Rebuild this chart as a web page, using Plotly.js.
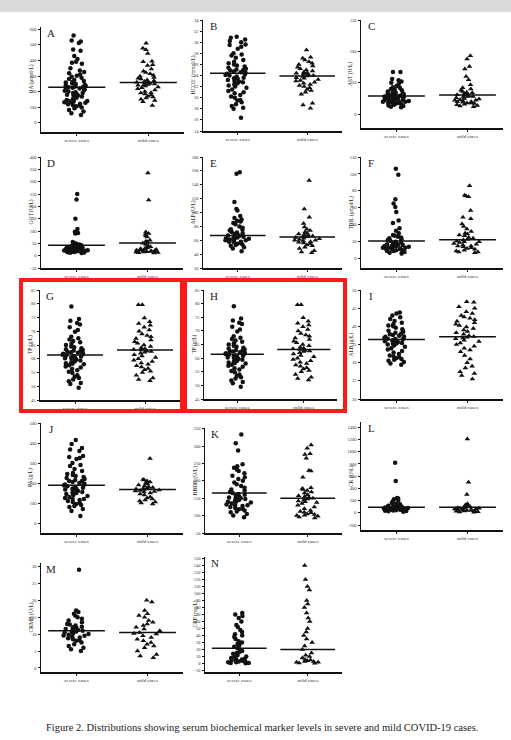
<!DOCTYPE html>
<html><head><meta charset="utf-8">
<script src="https://cdn.plot.ly/plotly-3.0.1.min.js"></script>
<style>html,body{margin:0;padding:0;background:#fff}#chart{width:511px;height:740px}</style>
</head><body><div id="chart"></div>
<script>
const categories = ['severe cases', 'mild cases'];

const ua_severe = [560,528,522,512,470,462,428,410,392,385,378,350,335,325,318,310,302,295,288,280,275,268,262,258,252,248,244,240,236,232,228,224,220,215,210,205,200,195,190,185,180,175,168,160,152,145,140,138,132,128,122,118,112,105,98,92,82,72,60,50,230,215,190,175,140,125,110];
const ua_mild = [510,478,468,445,395,392,372,368,345,330,322,315,305,298,290,285,280,275,270,265,262,258,252,248,244,240,235,230,224,218,210,200,192,185,178,170,165,158,150,142,135,110,260,245,190];
const ua_means = [227, 259];

const hco3_severe = [31,30.8,30.5,30.2,30,29.6,29.5,29.2,28.8,28,27.8,27.6,27.2,26.8,26.5,26.2,26,25.8,25.6,25.4,25.2,25,24.9,24.7,24.5,24.3,24.2,24,23.8,23.6,23.4,23.2,23,22.8,22.6,22.4,22.2,22,21.8,21.5,21.2,21,20.8,20.5,20.2,20,19.6,19.5,19.2,18.8,18.5,18.2,18,16.4,25.1,24.6,24.1,23.5,22.9];
const hco3_mild = [28.6,27.3,27.1,26.8,26.5,26.2,26,25.7,25.5,25.2,25,24.8,24.6,24.4,24.3,24.1,24,23.8,23.6,23.5,23.3,23.1,23,22.8,22.6,22.4,22.2,22,21.8,21.5,21.3,21,20.6,19,18.7,18.1,24.5,23.9];
const hco3_means = [24.4, 23.9];

const ast_severe = [67,67,56,54,52,50,48,45,43,42,40,39,38,37,36,35,34,33,32,32,31,30,30,29,28,28,27,27,26,26,25,25,24,24,23,23,22,22,21,21,20,20,19,19,18,18,17,16,15,14,13,12,11,30,27,24,21,18];
const ast_mild = [93,88,76,72,60,55,47,42,40,38,36,35,34,33,32,31,30,29,28,27,26,25,24,23,22,21,20,20,19,18,18,17,16,15,14,13,12,28,22];
const ast_means = [29, 30.6];

const ggt_severe = [250,228,150,108,97,95,92,90,55,50,48,45,43,42,40,39,38,36,35,34,33,32,31,30,29,28,27,26,25,25,24,23,22,22,21,20,20,19,18,18,17,16,15,14,13,12,11,30,27,24,21,18];
const ggt_mild = [335,226,96,90,86,80,76,62,58,55,50,45,40,36,32,30,28,26,25,24,22,21,20,19,18,17,16,15,14,13,12,11,20,16];
const ggt_means = [42, 51];

const alp_severe = [158,156,115,105,103,95,92,90,88,87,85,83,80,78,76,75,74,72,71,70,69,68,67,66,65,64,63,62,61,60,59,58,57,56,55,54,53,52,50,48,44,66,64,62,60,58];
const alp_mild = [146,105,93,84,79,76,74,72,70,69,68,67,66,65,64,63,62,61,60,59,58,57,56,55,53,52,50,48,45,43,42,65,60];
const alp_means = [67, 64.7];

const tbil_severe = [106,99,70,65,61,55,45,42,36,33,30,28,27,26,25,24,23,22,21,20,19,18,18,17,16,16,15,15,14,14,13,13,12,12,11,11,10,10,9,9,8,7,6,17,15,13,11];
const tbil_mild = [86,75,74,73,57,49,47,41,38,35,32,30,29,28,27,25,24,23,22,21,20,19,18,17,16,15,14,13,12,11,10,9,8,8,7,20,15];
const tbil_means = [20.9, 22.4];

const tp_severe = [79,74.5,73.8,73,72.5,71.5,70.5,69.8,68,67.5,67,66.5,66,65.5,65,64.5,64.2,63.8,63.5,63.2,63,62.7,62.5,62.2,62,61.8,61.5,61.2,61,60.8,60.5,60.2,60,59.7,59.4,59,58.7,58.4,58,57.6,57.2,56.8,56.3,55.8,55.3,54.8,54,53.5,53,52.5,51.8,51.2,50.8,49.5,62.4,61.6,60.4,58.2];
const tp_mild = [79.6,79.6,74.8,73.5,72.8,72.2,71.5,70.5,70,69,68.5,68,67.4,66.8,66.2,65.6,65,64.5,64,63.6,63.2,62.8,62.4,62,61.5,61,60.5,60,59.5,59,58.5,58,57.5,57,56.5,56,55.5,55,54,53,52.5,52,63.4,62.6];
const tp_means = [61.4, 63.2];

const alb_severe = [43.8,43.5,43,42.5,42,41.5,41,40.6,40.2,40,39.6,39.2,38.8,38.5,38.2,38,37.8,37.6,37.4,37.2,37,36.8,36.6,36.4,36.2,36,35.8,35.6,35.4,35.2,35,34.7,34.4,34,33.6,33.2,32.8,32.4,32,31.8,31.5,31.2,31,30.8,30.5,30.2,29.8,29.4,37.1,36.5,35.9,35.3];
const alb_mild = [46.8,46.6,45.4,45,44,43.5,43,42.6,42.2,41.8,41.4,41,40.6,40.2,39.8,39.4,39,38.6,38.2,37.8,37.4,37,36.6,36.2,35.8,35.4,35,34.5,34,33.5,33,32,31,30,29,28.5,27.5,27,26.5,25.5,37.2,36.8];
const alb_means = [36.4, 37.1];

const pa_severe = [415,395,375,368,360,335,330,325,320,300,290,285,270,260,250,245,240,235,230,225,220,215,210,205,200,196,192,188,184,180,176,172,168,164,160,155,150,145,140,135,130,125,120,115,110,105,100,95,90,85,80,70,60,35,210,190,170,150,120];
const pa_mild = [322,218,215,210,205,200,195,190,185,180,178,175,172,170,168,165,162,160,158,155,150,145,140,130,125,120,115,110,105,100,95];
const pa_means = [189, 167];

const hbdh_severe = [333,308,287,248,242,238,232,228,222,215,210,205,200,195,190,185,180,175,172,168,165,162,160,157,155,152,150,148,145,142,140,138,135,132,130,128,125,122,120,118,115,112,110,105,100,95,150,140,130];
const hbdh_mild = [303,294,278,276,265,230,228,210,180,178,175,172,168,165,160,157,155,152,150,148,145,142,140,138,135,130,125,120,115,112,110,108,105,103,101,100,98,96,93];
const hbdh_means = [165, 150];

const ck_severe = [820,520,245,235,225,200,185,160,150,140,130,120,115,110,105,100,95,90,85,80,75,70,65,60,55,50,45,40,35,30,25,20,90,70,50,40];
const ck_mild = [1210,500,300,150,130,120,110,100,95,90,85,80,75,70,65,60,55,50,45,40,35,30,25,20,15,10,60,40];
const ck_means = [92, 92];

const ckmb_severe = [29,17,16.5,16,15.5,15,14.5,14,13.5,13,12.8,12.5,12.2,12,11.8,11.5,11.2,11,10.8,10.5,10.2,10,9.8,9.5,9.2,9,8.8,8.5,8.2,8,7.5,7,6.5,6,5.5,5,11.4,10.6,9.6];
const ckmb_mild = [20,19.5,17,16,15.5,15,14,13.5,13,12.5,12,11.5,11,10.5,10,9.5,9,8.5,8,7.5,7,6.5,6,5,4,3.5,3,10.2];
const ckmb_means = [11, 10.5];

const crp_severe = [72,70,68,65,60,55,52,48,45,42,40,38,35,32,30,28,26,24,22,20,18,16,15,14,12,10,9,8,7,6,5,4,3,2,1,1,0.5,6,4,3,2];
const crp_mild = [140,120,110,105,90,85,80,72,65,60,50,45,40,35,30,25,20,15,12,10,8,6,5,4,3,2,1,0.5,3,2];
const crp_means = [22, 20];

const W = 511, H = 740;
const panels = [
  {letter:'A', title:'UA (μmol/L)', sev:ua_severe, mild:ua_mild, means:ua_means, range:[-60,615], dtick:100, box:[41,184,27,132]},
  {letter:'B', title:'HCO3⁻ (mmol/L)', sev:hco3_severe, mild:hco3_mild, means:hco3_means, range:[14,34], dtick:2, box:[203,342,20,131]},
  {letter:'C', title:'AST (U/L)', sev:ast_severe, mild:ast_mild, means:ast_means, range:[-22,150], dtick:50, box:[361,503,20,128]},
  {letter:'D', title:'GGT (U/L)', sev:ggt_severe, mild:ggt_mild, means:ggt_means, range:[-50,400], dtick:50, box:[41,183,157,268]},
  {letter:'E', title:'ALP (U/L)', sev:alp_severe, mild:alp_mild, means:alp_means, range:[20,180], dtick:20, box:[203,342,157,268]},
  {letter:'F', title:'TBIL (μmol/L)', sev:tbil_severe, mild:tbil_mild, means:tbil_means, range:[-11,120], dtick:20, box:[361,503,157,268]},
  {letter:'G', title:'TP (g/L)', sev:tp_severe, mild:tp_mild, means:tp_means, range:[45,85], dtick:5, box:[40,180,290,400]},
  {letter:'H', title:'TP (g/L)', sev:tp_severe, mild:tp_mild, means:tp_means, range:[45,85], dtick:5, box:[204,337,290,399]},
  {letter:'I', title:'ALB (g/L)', sev:alb_severe, mild:alb_mild, means:alb_means, range:[20,50], dtick:5, box:[361,503,290,399]},
  {letter:'J', title:'PA (g/L)', sev:pa_severe, mild:pa_mild, means:pa_means, range:[-50,500], dtick:100, box:[41,183,423,533]},
  {letter:'K', title:'HBDH (U/L)', sev:hbdh_severe, mild:hbdh_mild, means:hbdh_means, range:[50,352], dtick:50, box:[205,342,428,533]},
  {letter:'L', title:'CK (U/L)', sev:ck_severe, mild:ck_mild, means:ck_means, range:[-280,1487], dtick:200, box:[361,503,422,530]},
  {letter:'M', title:'CKMB (U/L)', sev:ckmb_severe, mild:ckmb_mild, means:ckmb_means, range:[-1.2,31], dtick:5, box:[41,183,563,672]},
  {letter:'N', title:'CRP (mg/L)', sev:crp_severe, mild:crp_mild, means:crp_means, range:[-12,152], dtick:10, box:[205,342,557,672]}
];

const SERIF = 'Liberation Serif, Times New Roman, serif';
const data = [], shapes = [], annotations = [];
const layout = {
  width: W, height: H, margin:{l:0,r:0,t:0,b:0},
  paper_bgcolor:'#ffffff', plot_bgcolor:'rgba(0,0,0,0)',
  showlegend:false, boxmode:'overlay', font:{family:SERIF, color:'#111'}
};
const fx = v => v / W, fy = v => 1 - v / H;

panels.forEach((p, i) => {
  const n = i + 1, sx = n === 1 ? '' : String(n);
  const xa = 'x' + sx, ya = 'y' + sx;
  const [x0, x1, y0, y1] = p.box;
  layout['xaxis' + sx] = {
    domain:[fx(x0), fx(x1)], anchor: ya, type:'category', categoryorder:'array', categoryarray:categories,
    range:[-0.5, 1.5], showline:true, linecolor:'#111', linewidth:1.5, ticks:'outside', ticklen:2, tickwidth:1,
    tickcolor:'#111', tickfont:{size:5, family:SERIF, color:'#333'}, showgrid:false, zeroline:false, fixedrange:true
  };
  layout['yaxis' + sx] = {
    domain:[fy(y1), fy(y0)], anchor: xa, range:p.range, dtick:p.dtick, tick0:0, showline:true, linecolor:'#111',
    linewidth:1.5, ticks:'outside', ticklen:2, tickwidth:1, tickcolor:'#111', tickfont:{size:4.5, family:SERIF, color:'#333'},
    showgrid:false, zeroline:false, fixedrange:true
  };
  const common = {type:'box', xaxis:xa, yaxis:ya, boxpoints:'all', jitter:0.8, pointpos:0,
    line:{width:0, color:'rgba(0,0,0,0)'}, fillcolor:'rgba(0,0,0,0)', whiskerwidth:0, hoverinfo:'skip', showlegend:false};
  data.push(Object.assign({}, common, {y:p.sev, x0:categories[0], marker:{symbol:'circle', size:4.5, color:'#111'}}));
  data.push(Object.assign({}, common, {y:p.mild, x0:categories[1], marker:{symbol:'triangle-up', size:5, color:'#111'}}));
  p.means.forEach((m, k) => {
    shapes.push({type:'line', xref:xa, yref:ya, x0:k - 0.4, x1:k + 0.4, y0:m, y1:m, line:{color:'#111', width:1.5}});
  });
  annotations.push({xref:'paper', yref:'paper', x:fx(x0 + 10), y:fy(y0 + 6), text:p.letter, showarrow:false,
    xanchor:'center', yanchor:'middle', font:{size:11, family:SERIF, color:'#222'}});
  annotations.push({xref:'paper', yref:'paper', x:fx(x0 - 10), y:fy((y0 + y1) / 2), text:p.title, showarrow:false,
    textangle:-90, xanchor:'center', yanchor:'middle', font:{size:5.5, family:SERIF, color:'#222'}});
});

// page decoration
shapes.push({type:'rect', xref:'paper', yref:'paper', x0:0, x1:1, y0:fy(12), y1:1, fillcolor:'#d9d9d9', line:{width:0}, layer:'below'});
shapes.push({type:'rect', xref:'paper', yref:'paper', x0:fx(21), x1:fx(182), y0:fy(411), y1:fy(280), line:{color:'#ff1a1a', width:4}});
shapes.push({type:'rect', xref:'paper', yref:'paper', x0:fx(185), x1:fx(345), y0:fy(411), y1:fy(280), line:{color:'#ff1a1a', width:4}});
annotations.push({xref:'paper', yref:'paper', x:fx(262), y:fy(727), showarrow:false, xanchor:'center', yanchor:'middle',
  text:'Figure 2. Distributions showing serum biochemical marker levels in severe and mild COVID-19 cases.',
  font:{size:10.5, family:SERIF, color:'#222'}});

layout.shapes = shapes;
layout.annotations = annotations;
Plotly.newPlot('chart', data, layout, {staticPlot:true, displayModeBar:false});
</script>
</body></html>
